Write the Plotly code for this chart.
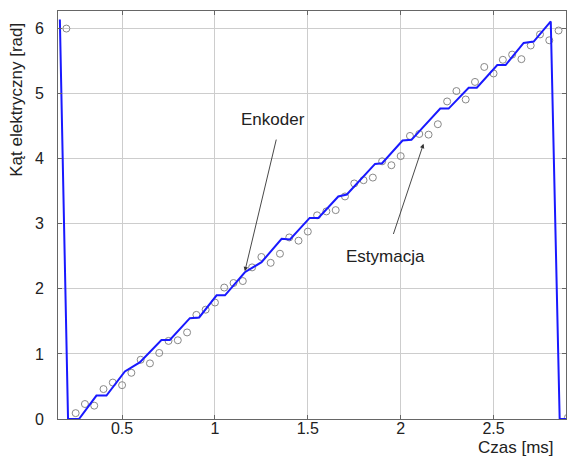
import plotly.graph_objects as go

# Encoder angle: vertices of the stepped trace (time in ms, angle in rad)
enc_t = [0.165, 0.209, 0.268, 0.362, 0.416, 0.515, 0.595, 0.712, 0.757, 0.865,
         0.915, 1.009, 1.054, 1.161, 1.251, 1.359, 1.404, 1.510, 1.557, 1.664,
         1.710, 1.862, 1.900, 2.010, 2.058, 2.213, 2.258, 2.366, 2.410, 2.520,
         2.565, 2.662, 2.716, 2.808, 2.856, 2.900]
enc_a = [6.14, 0.00, 0.00, 0.36, 0.36, 0.73, 0.87, 1.215, 1.215, 1.55,
         1.56, 1.90, 1.90, 2.255, 2.41, 2.77, 2.76, 3.09, 3.09, 3.42,
         3.45, 3.92, 3.93, 4.28, 4.29, 4.77, 4.77, 5.09, 5.09, 5.44,
         5.44, 5.78, 5.80, 6.11, 0.00, 0.00]

# Estimated angle sampled every 0.05 ms
est_t = [0.20, 0.25, 0.30, 0.35, 0.40, 0.45, 0.50, 0.55, 0.60, 0.65,
         0.70, 0.75, 0.80, 0.85, 0.90, 0.95, 1.00, 1.05, 1.10, 1.15,
         1.20, 1.25, 1.30, 1.35, 1.40, 1.45, 1.50, 1.55, 1.60, 1.65,
         1.70, 1.75, 1.80, 1.85, 1.90, 1.95, 2.00, 2.05, 2.10, 2.15,
         2.20, 2.25, 2.30, 2.35, 2.40, 2.45, 2.50, 2.55, 2.60, 2.65,
         2.70, 2.75, 2.80, 2.85, 2.90]
est_a = [6.00, 0.09, 0.23, 0.205, 0.46, 0.56, 0.52, 0.71, 0.91, 0.855,
         1.015, 1.20, 1.21, 1.33, 1.60, 1.68, 1.79, 2.02, 2.09, 2.12,
         2.33, 2.49, 2.40, 2.54, 2.79, 2.74, 2.88, 3.13, 3.19, 3.21,
         3.42, 3.62, 3.67, 3.71, 3.96, 3.90, 4.04, 4.35, 4.38, 4.37,
         4.53, 4.88, 5.04, 4.91, 5.18, 5.41, 5.31, 5.52, 5.60, 5.53,
         5.74, 5.91, 5.82, 5.97, 0.02]

x_ticks = [0.5, 1, 1.5, 2, 2.5]
x_tick_text = ["0.5", "1", "1.5", "2", "2.5"]
y_ticks = [0, 1, 2, 3, 4, 5, 6]

FONT = "Liberation Sans, Arial, sans-serif"
TXT = "#222"

fig = go.Figure()
fig.add_trace(go.Scatter(
    x=est_t, y=est_a, mode="markers", name="Estymacja",
    marker=dict(symbol="circle-open", size=7, color="#888888",
                line=dict(width=1, color="#888888")),
    cliponaxis=True,
))
fig.add_trace(go.Scatter(
    x=enc_t, y=enc_a, mode="lines", name="Enkoder",
    line=dict(color="rgb(25,25,255)", width=2),
    cliponaxis=True,
))

axis_common = dict(
    showgrid=True, gridcolor="#cdcdcd", gridwidth=1,
    showline=True, linecolor="#666666", linewidth=1, mirror="ticks",
    ticks="inside", ticklen=4, tickcolor="#666666",
    zeroline=False,
    tickfont=dict(family=FONT, size=16, color=TXT),
)

fig.update_layout(
    width=568, height=457,
    margin=dict(l=58, r=2, t=11, b=38),
    paper_bgcolor="white", plot_bgcolor="white",
    showlegend=False,
    xaxis=dict(range=[0.155, 2.89], tickvals=x_ticks, ticktext=x_tick_text,
               ticklabelstandoff=-5, **axis_common),
    yaxis=dict(range=[0, 6.27], tickvals=y_ticks, ticklabelstandoff=10,
               **axis_common),
    font=dict(family=FONT, size=16, color=TXT),
)

# Axis titles
fig.add_annotation(text="Czas [ms]", xref="paper", yref="paper",
                   x=0.901, y=-0.069, xanchor="center", yanchor="middle",
                   showarrow=False, font=dict(family=FONT, size=17, color=TXT))
fig.add_annotation(text="Kąt elektryczny [rad]", xref="paper", yref="paper",
                   x=-0.081, y=0.782, xanchor="center", yanchor="middle",
                   textangle=-90, showarrow=False,
                   font=dict(family=FONT, size=17, color=TXT))

# Series labels with pointer arrows
fig.add_annotation(text="Enkoder", x=1.314, y=4.60, xref="x", yref="y",
                   xanchor="center", yanchor="middle", showarrow=False,
                   font=dict(family=FONT, size=17, color=TXT))
fig.add_annotation(text="", x=1.161, y=2.27, ax=1.332, ay=4.317,
                   xref="x", yref="y", axref="x", ayref="y",
                   showarrow=True, arrowhead=2, arrowsize=1, arrowwidth=0.9,
                   arrowcolor="#333")
fig.add_annotation(text="Estymacja", x=1.916, y=2.50, xref="x", yref="y",
                   xanchor="center", yanchor="middle", showarrow=False,
                   font=dict(family=FONT, size=17, color=TXT))
fig.add_annotation(text="", x=2.123, y=4.23, ax=1.958, ay=2.82,
                   xref="x", yref="y", axref="x", ayref="y",
                   showarrow=True, arrowhead=2, arrowsize=1, arrowwidth=0.9,
                   arrowcolor="#333")

fig.write_html("out.html")
